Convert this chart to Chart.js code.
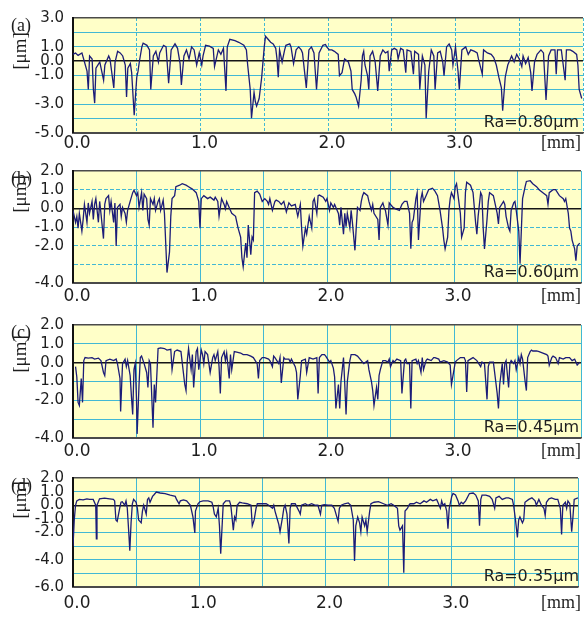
<!DOCTYPE html>
<html>
<head>
<meta charset="utf-8">
<script src="https://cdn.jsdelivr.net/npm/chart.js@4.4.1/dist/chart.umd.min.js"></script>
<style>
  html, body { margin: 0; padding: 0; background: #ffffff; }
  #wrap { position: relative; width: 584px; height: 617px; overflow: hidden; }
  #wrap canvas { position: absolute; left: 0; }
</style>
</head>
<body>
<div id="wrap">
  <canvas id="pa" width="584" height="153" style="top:0px"></canvas>
  <canvas id="pb" width="584" height="154" style="top:153px"></canvas>
  <canvas id="pc" width="584" height="153" style="top:307px"></canvas>
  <canvas id="pd" width="584" height="157" style="top:460px"></canvas>
</div>
<script>
// ---- Surface roughness profiles: position along the trace [mm] and height [um] ----

// (a) Ra = 0.80 um
const A_X = [
  0.00,0.02,0.04,0.07,0.09,0.11,0.12,0.13,0.15,0.16,
  0.17,0.18,0.21,0.24,0.25,0.28,0.29,0.32,0.33,0.35,
  0.37,0.39,0.41,0.42,0.43,0.45,0.46,0.48,0.50,0.51,
  0.52,0.54,0.55,0.58,0.60,0.61,0.63,0.65,0.67,0.68,
  0.71,0.73,0.75,0.77,0.80,0.82,0.84,0.85,0.87,0.89,
  0.91,0.93,0.95,0.97,0.99,1.01,1.02,1.04,1.07,1.10,
  1.11,1.14,1.16,1.18,1.20,1.21,1.23,1.27,1.30,1.34,
  1.36,1.37,1.38,1.39,1.40,1.42,1.43,1.44,1.46,1.48,
  1.50,1.51,1.53,1.55,1.57,1.59,1.60,1.61,1.62,1.64,
  1.66,1.67,1.70,1.71,1.73,1.75,1.77,1.79,1.80,1.83,
  1.85,1.87,1.89,1.91,1.93,1.96,1.98,1.99,2.01,2.03,
  2.05,2.08,2.09,2.11,2.13,2.16,2.18,2.19,2.21,2.22,
  2.24,2.26,2.27,2.28,2.29,2.31,2.32,2.33,2.35,2.37,
  2.39,2.41,2.43,2.45,2.47,2.48,2.50,2.52,2.54,2.55,
  2.57,2.59,2.61,2.62,2.65,2.67,2.68,2.71,2.72,2.74,
  2.76,2.77,2.79,2.81,2.83,2.84,2.86,2.88,2.90,2.91,
  2.93,2.95,2.97,2.98,3.00,3.02,3.03,3.05,3.08,3.10,
  3.12,3.15,3.17,3.18,3.21,3.22,3.25,3.28,3.30,3.32,
  3.34,3.36,3.37,3.39,3.41,3.43,3.44,3.46,3.48,3.50,
  3.52,3.53,3.55,3.57,3.59,3.60,3.62,3.64,3.67,3.69,
  3.71,3.73,3.75,3.78,3.79,3.80,3.83,3.86,3.87,3.90,
  3.92,3.95,3.96,3.97,3.99
];
const A_Y = [
  0.47,0.57,0.40,0.57,-0.06,-0.70,-1.97,0.36,0.15,-1.97,
  -2.92,-0.49,-0.06,-1.33,-0.27,0.36,0.15,-1.86,-0.06,0.68,
  0.57,0.36,-0.27,-2.49,-0.49,-0.17,-0.80,-3.76,-1.12,-0.70,
  -0.06,0.99,1.25,1.10,0.78,-1.97,0.36,0.68,-0.06,0.57,
  1.10,0.99,-1.54,0.78,1.20,0.89,-0.17,-1.65,0.36,0.78,
  0.15,0.99,0.78,-0.27,0.57,-0.27,0.36,1.10,1.04,0.89,
  -0.38,0.78,0.47,0.89,-2.07,0.99,1.52,1.42,1.31,1.10,
  0.78,-0.27,-1.12,-1.97,-3.97,-2.18,-2.81,-3.13,-2.60,-1.12,
  0.99,1.73,1.52,1.31,1.20,0.89,0.15,-1.12,0.78,-0.06,
  0.78,1.10,1.20,0.99,-0.17,0.78,0.99,0.78,0.57,-1.86,
  0.78,0.99,0.57,-1.97,0.57,1.10,1.16,0.99,0.78,0.78,
  0.68,0.47,-1.01,-0.80,0.15,-0.06,-0.70,-1.97,-2.28,-2.49,
  -3.13,-1.33,0.36,0.68,-0.27,-1.01,-1.97,0.36,0.68,-0.06,
  -2.07,0.36,0.78,0.57,0.68,-0.70,0.78,0.89,0.78,0.15,
  0.89,0.78,-0.80,0.78,0.68,-0.91,0.68,0.47,-1.97,0.36,
  -0.27,-3.97,-0.70,0.78,0.36,-1.97,0.57,0.68,-0.06,-1.01,
  0.99,1.20,0.78,-0.27,0.99,-0.70,-1.97,0.78,0.99,0.47,
  0.78,0.68,0.57,0.15,-0.91,0.78,0.57,0.47,0.25,-0.27,
  -1.12,-1.86,-3.45,-1.12,-0.27,0.15,0.36,-0.06,0.47,0.15,
  -0.38,0.36,-0.17,0.25,-0.80,-2.07,-0.06,0.47,0.78,0.57,
  -2.71,0.36,0.78,0.78,-0.91,0.78,0.78,-1.33,0.78,0.78,
  0.68,0.47,-0.27,-1.97,-2.60
];

// (b) Ra = 0.60 um
const B_X = [
  0.00,0.02,0.03,0.04,0.05,0.07,0.08,0.09,0.11,0.12,
  0.13,0.15,0.16,0.17,0.18,0.20,0.21,0.22,0.24,0.25,
  0.26,0.28,0.29,0.30,0.32,0.33,0.34,0.35,0.37,0.38,
  0.39,0.41,0.42,0.43,0.45,0.47,0.48,0.50,0.51,0.52,
  0.54,0.55,0.56,0.58,0.59,0.60,0.61,0.63,0.64,0.65,
  0.67,0.68,0.69,0.71,0.72,0.73,0.74,0.76,0.77,0.78,
  0.80,0.81,0.84,0.86,0.89,0.91,0.94,0.97,0.99,1.00,
  1.01,1.03,1.06,1.08,1.11,1.12,1.14,1.15,1.17,1.19,
  1.20,1.21,1.24,1.25,1.28,1.29,1.30,1.32,1.33,1.34,
  1.36,1.37,1.38,1.40,1.41,1.42,1.43,1.45,1.47,1.49,
  1.51,1.53,1.54,1.55,1.57,1.59,1.60,1.62,1.64,1.66,
  1.68,1.70,1.72,1.75,1.77,1.79,1.80,1.81,1.83,1.84,
  1.85,1.86,1.88,1.89,1.90,1.92,1.93,1.94,1.97,1.99,
  2.00,2.02,2.03,2.05,2.06,2.09,2.10,2.11,2.13,2.14,
  2.15,2.16,2.18,2.19,2.20,2.22,2.23,2.24,2.26,2.27,
  2.28,2.29,2.32,2.33,2.35,2.36,2.37,2.40,2.41,2.42,
  2.44,2.45,2.46,2.48,2.49,2.52,2.54,2.57,2.58,2.59,
  2.61,2.63,2.65,2.66,2.67,2.68,2.70,2.71,2.72,2.74,
  2.75,2.76,2.78,2.80,2.83,2.85,2.87,2.89,2.91,2.92,
  2.93,2.95,2.96,2.97,2.98,3.00,3.01,3.02,3.05,3.06,
  3.08,3.09,3.10,3.13,3.15,3.17,3.18,3.19,3.21,3.22,
  3.23,3.24,3.26,3.27,3.28,3.31,3.34,3.35,3.36,3.39,
  3.40,3.41,3.43,3.44,3.45,3.47,3.48,3.49,3.51,3.52,
  3.53,3.54,3.56,3.57,3.60,3.62,3.65,3.67,3.70,3.73,
  3.74,3.75,3.78,3.80,3.83,3.86,3.87,3.88,3.90,3.91,
  3.92,3.93,3.95,3.96,3.97,3.99
];
const B_Y = [
  -0.11,-0.75,-0.43,-1.06,-0.27,-1.22,-0.59,0.21,-0.75,0.29,
  -0.27,0.37,-0.59,0.21,0.52,-0.75,0.37,-0.27,-1.62,0.21,
  0.52,0.68,-0.11,0.37,-0.75,0.29,-2.02,0.05,0.21,-0.43,
  0.05,-0.27,-0.75,-0.11,0.37,0.84,0.97,0.68,0.84,0.05,
  0.84,-0.11,0.76,0.52,-0.59,-0.90,0.52,0.21,0.52,-0.11,
  0.37,0.52,-0.11,0.44,-0.27,-1.86,-3.44,-2.33,-0.43,0.52,
  0.68,1.16,1.24,1.32,1.24,1.16,1.03,0.84,0.37,-1.06,
  0.52,0.68,0.52,0.60,0.44,0.60,0.37,-0.43,0.52,0.21,
  -0.03,0.37,-0.11,-0.27,-0.43,-0.75,-1.06,-1.54,-2.65,-3.13,
  -1.86,-2.65,-0.90,-2.49,-1.54,-1.70,0.84,0.92,0.76,0.37,
  0.52,0.37,0.21,0.52,-0.11,0.37,0.44,0.37,0.21,0.37,
  -0.19,0.29,0.13,0.21,-0.43,0.21,-1.06,-2.02,-1.06,-1.38,
  -0.90,-0.43,-1.06,0.37,0.52,-0.27,0.68,0.71,0.60,0.37,
  0.52,-0.11,0.29,0.05,0.21,-0.27,-0.90,0.05,-1.38,-0.27,
  -0.98,-0.27,-1.06,-0.11,-0.75,-2.25,-1.06,0.05,-0.11,0.37,
  0.68,0.84,0.68,0.37,-0.11,0.21,-0.27,-0.59,-1.70,0.05,
  0.29,0.05,-0.11,-0.90,0.29,0.05,-0.03,-0.11,0.05,0.21,
  0.37,0.37,-0.27,-2.17,-0.75,-0.59,0.52,0.84,-1.70,0.52,
  0.84,0.37,0.68,1.00,1.08,0.92,0.68,-0.11,-1.06,-1.70,
  -2.17,-1.54,-0.11,0.52,0.84,0.52,1.16,1.32,-0.27,-1.54,
  -1.06,0.84,1.40,1.24,0.84,-0.75,-1.38,-0.43,0.84,0.68,
  -1.06,-2.17,-0.59,0.37,0.84,0.68,-0.27,-0.83,0.05,0.37,
  0.21,-0.43,-1.06,-1.22,-0.11,0.29,0.37,-0.11,-1.22,-2.97,
  -1.22,0.52,1.16,1.44,1.48,1.32,1.16,1.00,0.84,0.68,
  0.21,0.84,1.00,1.00,0.68,0.52,0.37,0.52,-0.27,-1.06,
  -1.22,-1.70,-2.17,-2.81,-2.02,-1.86
];

// (c) Ra = 0.45 um
const C_X = [
  0.02,0.03,0.04,0.05,0.065,0.075,0.085,0.095,0.12,0.15,
  0.17,0.20,0.22,0.24,0.25,0.26,0.29,0.32,0.34,0.35,
  0.37,0.375,0.39,0.41,0.42,0.43,0.45,0.46,0.47,0.48,
  0.49,0.50,0.505,0.52,0.53,0.54,0.56,0.58,0.59,0.60,
  0.61,0.63,0.64,0.65,0.67,0.69,0.72,0.74,0.77,0.78,
  0.80,0.82,0.85,0.88,0.89,0.90,0.91,0.93,0.94,0.95,
  0.97,0.98,0.99,1.01,1.02,1.03,1.04,1.06,1.07,1.08,
  1.10,1.11,1.12,1.14,1.15,1.16,1.17,1.19,1.20,1.21,
  1.23,1.24,1.25,1.27,1.29,1.32,1.34,1.37,1.40,1.42,
  1.45,1.46,1.47,1.49,1.51,1.54,1.55,1.57,1.58,1.59,
  1.62,1.63,1.64,1.66,1.67,1.70,1.71,1.72,1.75,1.76,
  1.77,1.79,1.80,1.83,1.84,1.85,1.86,1.89,1.92,1.93,
  1.94,1.96,1.98,1.99,2.02,2.03,2.05,2.06,2.07,2.09,
  2.10,2.11,2.13,2.14,2.15,2.16,2.18,2.19,2.22,2.24,
  2.27,2.29,2.32,2.33,2.35,2.36,2.37,2.39,2.40,2.41,
  2.42,2.44,2.46,2.48,2.49,2.50,2.52,2.53,2.55,2.58,
  2.59,2.61,2.62,2.63,2.65,2.66,2.67,2.70,2.71,2.72,
  2.74,2.75,2.76,2.78,2.79,2.82,2.84,2.85,2.88,2.89,
  2.92,2.95,2.97,2.98,3.00,3.01,3.02,3.05,3.08,3.09,
  3.10,3.11,3.13,3.15,3.18,3.21,3.22,3.24,3.26,3.27,
  3.28,3.31,3.32,3.34,3.35,3.36,3.38,3.39,3.40,3.41,
  3.43,3.44,3.45,3.47,3.48,3.49,3.51,3.52,3.53,3.54,
  3.56,3.57,3.58,3.60,3.61,3.62,3.65,3.67,3.70,3.73,
  3.74,3.75,3.77,3.78,3.80,3.82,3.83,3.86,3.88,3.91,
  3.93,3.95,3.96,3.97,3.99
];
const C_Y = [
  -0.21,-0.76,-2.11,-2.27,-0.84,-2.11,0.11,0.27,0.24,0.27,
  0.19,0.24,0.11,-0.52,-0.68,0.11,0.19,0.11,0.19,-0.05,
  -0.84,-2.59,-0.05,0.19,-0.21,0.11,-0.68,-1.79,-2.75,-0.37,
  -0.05,-1.95,-3.78,-1.16,0.27,0.35,-0.05,-0.52,-1.32,0.11,
  -0.05,-3.46,-1.16,-2.11,0.75,0.78,0.75,0.67,0.71,-0.37,
  0.59,0.67,0.59,-1.16,-1.48,0.11,0.75,-0.37,0.43,-1.32,
  0.59,0.75,-0.37,0.67,0.43,-0.05,0.59,0.43,-0.05,-0.52,
  0.27,0.43,0.11,0.59,-0.21,-1.63,0.27,0.59,0.11,0.51,
  -0.84,0.43,-0.37,0.59,0.56,0.51,0.43,0.43,0.35,0.27,
  -0.05,-0.84,0.11,0.27,0.27,0.19,0.11,-0.21,0.35,0.27,
  -0.05,0.27,-1.08,0.27,0.19,0.19,0.03,0.19,-0.21,-0.52,
  -1.95,-0.68,0.11,0.19,-0.52,-0.13,0.27,0.19,0.27,-1.63,
  0.27,0.43,0.43,0.35,0.03,0.11,-0.29,-0.76,-2.43,-1.16,
  -2.43,-1.00,0.27,-1.16,-2.75,-1.00,0.11,0.43,0.43,0.35,
  0.11,-0.05,0.11,-0.37,-1.00,-1.48,-2.27,-1.32,-1.95,-0.68,
  -0.37,0.11,0.11,0.03,0.19,-0.21,0.11,0.03,0.19,0.11,
  -1.63,0.11,0.19,-0.05,-0.05,-2.43,0.11,0.19,-0.05,0.11,
  -0.52,0.27,-0.37,0.11,0.19,0.11,0.27,0.27,0.19,0.03,
  0.11,0.03,-0.13,-1.16,-0.37,0.03,0.11,0.27,0.27,0.11,
  -1.56,0.11,0.19,0.27,0.11,-0.21,0.03,-0.05,-1.95,-0.21,
  0.03,0.03,-0.52,-1.63,-2.43,-1.16,-0.05,-1.16,-0.05,0.11,
  -1.32,-0.05,0.11,-0.05,0.11,-0.37,0.27,-0.05,0.43,0.19,
  -1.00,-1.48,0.27,0.59,0.67,0.62,0.62,0.59,0.51,0.43,
  0.35,-0.13,0.27,0.35,0.27,-0.05,0.27,0.19,0.27,0.27,
  0.11,0.19,0.03,-0.13,0.03
];

// (d) Ra = 0.35 um
const D_X = [
  0.000,0.010,0.020,0.03,0.05,0.08,0.11,0.13,0.16,0.18,
  0.185,0.19,0.21,0.25,0.29,0.32,0.33,0.34,0.35,0.37,
  0.38,0.39,0.41,0.42,0.43,0.44,0.45,0.46,0.47,0.48,
  0.50,0.51,0.52,0.54,0.55,0.56,0.58,0.59,0.60,0.61,
  0.63,0.64,0.66,0.69,0.73,0.77,0.81,0.82,0.84,0.85,
  0.875,0.90,0.93,0.94,0.95,0.965,0.97,0.99,1.005,1.03,
  1.07,1.10,1.11,1.12,1.135,1.15,1.16,1.17,1.19,1.21,
  1.24,1.25,1.27,1.28,1.29,1.30,1.32,1.34,1.38,1.41,
  1.42,1.435,1.45,1.46,1.49,1.53,1.55,1.58,1.59,1.60,
  1.62,1.63,1.64,1.66,1.67,1.68,1.695,1.71,1.72,1.73,
  1.76,1.79,1.80,1.81,1.84,1.86,1.89,1.92,1.94,1.96,
  1.97,1.99,2.02,2.05,2.07,2.10,2.11,2.125,2.15,2.18,
  2.20,2.22,2.23,2.24,2.255,2.27,2.28,2.29,2.31,2.32,
  2.33,2.35,2.36,2.385,2.42,2.46,2.49,2.52,2.54,2.57,
  2.58,2.59,2.61,2.62,2.63,2.65,2.66,2.67,2.70,2.72,
  2.75,2.78,2.80,2.83,2.85,2.88,2.89,2.91,2.92,2.93,
  2.945,2.96,2.97,2.98,3.00,3.01,3.03,3.05,3.06,3.075,
  3.09,3.11,3.14,3.17,3.19,3.21,3.22,3.23,3.24,3.27,
  3.30,3.32,3.34,3.35,3.375,3.40,3.43,3.45,3.48,3.49,
  3.505,3.52,3.53,3.54,3.56,3.57,3.58,3.61,3.635,3.66,
  3.67,3.69,3.70,3.71,3.73,3.74,3.75,3.77,3.79,3.82,
  3.84,3.86,3.87,3.88,3.90,3.91,3.92,3.935,3.95,3.96,
  3.97,4.00
];
const D_Y = [
  -3.01,-1.08,0.00,0.32,0.43,0.39,0.47,0.43,0.43,0.00,
  -2.47,0.00,0.47,0.52,0.47,0.43,0.32,-1.08,-1.18,-0.22,
  0.22,0.26,0.00,0.32,-0.22,-1.72,-3.33,-1.29,0.11,0.43,
  0.22,-0.22,-1.08,-1.29,-0.43,0.00,-0.65,0.43,0.54,0.22,
  0.65,0.75,0.97,0.90,0.86,0.75,0.65,0.43,0.11,0.32,
  0.39,0.32,0.00,-0.43,-0.86,-2.04,-0.43,0.11,0.26,0.32,
  0.32,0.22,-0.11,-0.65,-0.86,-0.22,-1.51,-3.55,0.11,0.32,
  0.32,0.00,-1.83,-0.86,-1.08,0.00,0.22,0.17,0.11,0.00,
  -1.51,-1.08,-0.22,0.11,0.11,0.11,0.00,-0.22,0.00,-0.43,
  -1.08,-1.40,-1.94,-0.86,-0.22,0.00,-0.65,-2.80,-0.22,0.11,
  0.11,-0.43,-0.65,0.00,0.11,0.00,0.11,0.00,0.00,-0.65,
  0.00,0.04,0.00,0.00,-0.22,-1.18,-0.22,0.00,0.11,0.17,
  0.00,-1.08,-4.09,-1.51,-0.86,-1.29,-1.94,-0.86,-1.51,-1.08,
  -1.94,-0.43,0.11,0.22,0.26,0.11,0.00,0.11,0.00,-0.22,
  -1.51,-1.83,-1.51,-4.95,-0.43,-0.22,0.00,0.11,0.11,0.22,
  0.11,0.32,0.22,0.43,0.32,0.43,0.22,-0.22,0.32,0.00,
  0.11,-0.43,-1.72,-0.22,0.65,0.86,0.75,0.32,0.00,0.22,
  0.11,0.32,0.86,0.90,0.75,0.32,-1.51,0.43,0.75,0.75,
  0.65,0.43,-0.22,0.54,0.65,0.43,0.54,0.54,0.43,0.00,
  -1.08,-2.37,-1.08,-0.86,-1.29,-1.08,0.22,0.43,0.54,0.32,
  0.00,0.43,0.22,0.00,-0.22,-0.75,0.22,0.47,0.54,0.43,
  0.43,-0.22,-2.15,0.00,0.22,-0.22,0.32,0.11,-1.94,-0.86,
  0.43,0.54
];

// Axis ticks and labels
const X_GRID = [0, 0.5, 1, 1.5, 2, 2.5, 3, 3.5, 4];
const X_LABELS = [0, 1, 2, 3];
const Y_LABELS_A = [3, 1, 0, -1, -3, -5];
const Y_LABELS_B = [2, 1, 0, -1, -2, -4];
const Y_LABELS_C = [2, 1, 0, -1, -2, -4];
const Y_LABELS_D = [2, 1, 0, -1, -2, -4, -6];
const TAGS = ['(a)', '(b)', '(c)', '(d)'];
const RA_TEXT = ['Ra=0.80\u03bcm', 'Ra=0.60\u03bcm', 'Ra=0.45\u03bcm', 'Ra=0.35\u03bcm'];

// ---- styling ----
const PLOT_FILL = '#ffffc8';
const GRID_CYAN = 'rgb(66,184,212)';
const FRAME = '#4a4a4a';
const TRACE = '#1c1c78';
const TEXT = '#1e1e1e';

// Per-panel layout (canvas-relative pixels)
const PANELS = [
  { id: 'pa', xs: A_X, ys: A_Y, yMin: -5, yMax: 3, yLabels: Y_LABELS_A, h: 153, top: 7, bottom: 133, xPad: 0, unitY: 51, hDash: [], vDash: [3, 2] },
  { id: 'pb', xs: B_X, ys: B_Y, yMin: -4, yMax: 2, yLabels: Y_LABELS_B, h: 154, top: 7, bottom: 130, xPad: 3, unitY: 41, hDash: [4, 2], vDash: [] },
  { id: 'pc', xs: C_X, ys: C_Y, yMin: -4, yMax: 2, yLabels: Y_LABELS_C, h: 153, top: 7, bottom: 131, xPad: 3, unitY: 47, hDash: [], vDash: [] },
  { id: 'pd', xs: D_X, ys: D_Y, yMin: -6, yMax: 2, yLabels: Y_LABELS_D, h: 157, top: 4, bottom: 127, xPad: 6, unitY: 40, hDash: [], vDash: [] }
];

// Plot background, panel tag, units and Ra caption
const panelDecor = {
  id: 'panelDecor',
  beforeDraw(chart, args, o) {
    const { ctx, chartArea: a } = chart;
    ctx.save();
    ctx.fillStyle = PLOT_FILL;
    ctx.fillRect(a.left, a.top, a.right - a.left, a.bottom - a.top);
    ctx.restore();
  },
  afterDraw(chart, args, o) {
    const { ctx, chartArea: a } = chart;
    ctx.save();
    ctx.fillStyle = TEXT;
    ctx.textBaseline = 'middle';
    ctx.font = '18px "Liberation Serif", serif';
    ctx.textAlign = 'left';
    ctx.fillText(o.tag, 11, a.top + 8);

    ctx.save();
    ctx.translate(21, o.unitY);
    ctx.rotate(-Math.PI / 2);
    ctx.textAlign = 'center';
    ctx.font = '19px "Liberation Serif", serif';
    ctx.fillText('[\u03bcm]', 0, 0);
    ctx.restore();

    ctx.font = '18px "Liberation Serif", serif';
    ctx.textAlign = 'right';
    ctx.fillText('[mm]', 581, o.labelY);

    ctx.font = '16px "DejaVu Sans", sans-serif';
    ctx.fillText(o.ra, 579, a.bottom - 10);
    ctx.restore();
  }
};

function intRange(lo, hi) {
  const out = [];
  for (let v = hi; v >= lo; v--) out.push(v);
  return out;
}

PANELS.forEach((p, i) => {
  const n = Math.min(p.xs.length, p.ys.length);
  const points = [];
  for (let k = 0; k < n; k++) points.push({ x: p.xs[k], y: p.ys[k] });

  new Chart(document.getElementById(p.id), {
    type: 'line',
    data: {
      datasets: [{
        data: points,
        borderColor: TRACE,
        borderWidth: 1.3,
        pointRadius: 0,
        tension: 0,
        fill: false
      }]
    },
    options: {
      responsive: false,
      animation: false,
      devicePixelRatio: 1,
      layout: { padding: { top: p.top, right: 1, left: 0, bottom: 0 } },
      plugins: {
        legend: { display: false },
        tooltip: { enabled: false },
        panelDecor: { tag: TAGS[i], ra: RA_TEXT[i], unitY: p.unitY, labelY: p.bottom + p.xPad + 10 }
      },
      scales: {
        x: {
          type: 'linear',
          min: 0,
          max: 4,
          afterBuildTicks: s => { s.ticks = X_GRID.map(v => ({ value: v })); },
          afterFit: s => { s.height = p.h - p.bottom; },
          grid: {
            drawTicks: false,
            color: c => (c.tick && c.tick.value === 0) ? 'rgba(0,0,0,0)' : GRID_CYAN,
            lineWidth: 1
          },
          border: { display: true, color: FRAME, width: 1.5, dash: p.vDash },
          ticks: {
            autoSkip: false,
            maxRotation: 0,
            padding: p.xPad,
            labelOffset: 4,
            color: TEXT,
            font: { family: 'DejaVu Sans', size: 17 },
            callback: v => X_LABELS.includes(v) ? v.toFixed(1) : ''
          }
        },
        y: {
          type: 'linear',
          min: p.yMin,
          max: p.yMax,
          afterBuildTicks: s => { s.ticks = intRange(p.yMin, p.yMax).map(v => ({ value: v })); },
          afterFit: s => { s.width = 73; },
          grid: {
            drawTicks: false,
            color: c => {
              if (!c.tick) return GRID_CYAN;
              if (c.tick.value === 0) return '#151515';
              if (c.tick.value === p.yMax || c.tick.value === p.yMin) return FRAME;
              return GRID_CYAN;
            },
            lineWidth: c => (c.tick && (c.tick.value === 0 || c.tick.value === p.yMax)) ? 1.4 : 1
          },
          border: {
            display: true,
            color: '#111111',
            width: 2,
            dash: c => (c.tick && (c.tick.value === 0 || c.tick.value === p.yMax || c.tick.value === p.yMin)) ? [] : p.hDash
          },
          ticks: {
            autoSkip: false,
            padding: 9,
            color: TEXT,
            font: { family: 'DejaVu Sans', size: 15 },
            callback: v => p.yLabels.includes(v) ? v.toFixed(1) : ''
          }
        }
      }
    },
    plugins: [panelDecor]
  });
});
</script>
</body>
</html>
